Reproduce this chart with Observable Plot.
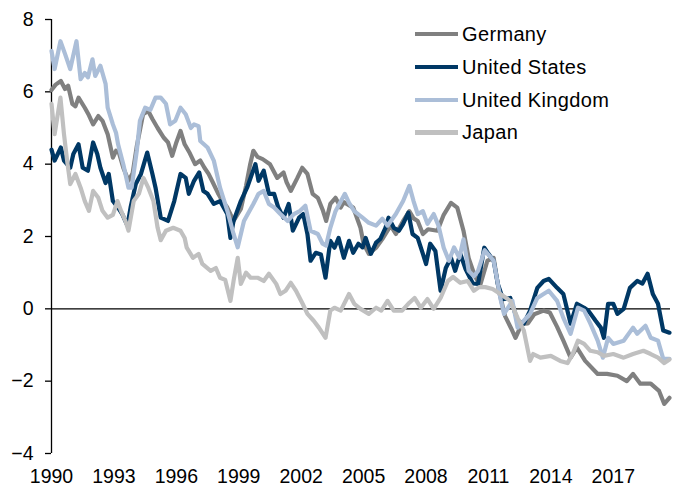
<!DOCTYPE html>
<html>
<head>
<meta charset="utf-8">
<script src="https://cdn.jsdelivr.net/npm/d3@7"></script>
<script src="https://cdn.jsdelivr.net/npm/@observablehq/plot@0.6"></script>
<style>
  html, body { margin: 0; padding: 0; background: #fff; }
  #wrap { position: relative; width: 675px; height: 484px; overflow: hidden; font-family: "Liberation Sans", Arial, sans-serif; }
  #legend { position: absolute; left: 415px; top: 18px; }
  .row { display: flex; align-items: center; height: 32.7px; }
  .sw { width: 43px; height: 4.2px; margin-right: 4px; }
  .lab { font-size: 20px; letter-spacing: 0.35px; color: #000; line-height: 1; }
</style>
</head>
<body>
<div id="wrap"><div id="legend"></div></div>
<script>
const seriesNames = ["Germany", "United States", "United Kingdom", "Japan"];
const seriesColors = ["#808080", "#003865", "#abbed8", "#c0c0c0"];
const xTicks = [1990, 1993, 1996, 1999, 2002, 2005, 2008, 2011, 2014, 2017];
const yTicks = [-4, -2, 0, 2, 4, 6, 8];

const germany = [[1990.0,6.05],[1990.2,6.2],[1990.45,6.3],[1990.65,6.08],[1990.8,6.17],[1991.0,5.67],[1991.15,5.6],[1991.3,5.84],[1991.6,5.56],[1991.8,5.35],[1992.0,5.1],[1992.25,5.33],[1992.45,5.2],[1992.7,4.83],[1992.95,4.18],[1993.1,4.37],[1993.25,4.3],[1993.45,3.9],[1993.7,3.54],[1993.9,3.75],[1994.1,4.5],[1994.4,5.38],[1994.65,5.47],[1994.85,5.25],[1995.1,5.0],[1995.4,4.73],[1995.6,4.6],[1995.8,4.23],[1996.0,4.6],[1996.2,4.92],[1996.4,4.55],[1996.65,4.3],[1996.9,4.0],[1997.15,4.1],[1997.35,3.9],[1997.55,3.73],[1997.75,3.5],[1998.0,3.2],[1998.2,3.0],[1998.45,2.8],[1998.75,2.43],[1999.1,2.76],[1999.35,3.4],[1999.55,4.0],[1999.7,4.37],[1999.9,4.2],[2000.15,4.14],[2000.5,4.0],[2000.85,3.62],[2001.15,3.77],[2001.3,3.5],[2001.5,3.26],[2001.8,3.6],[2002.05,3.9],[2002.3,3.73],[2002.55,3.18],[2002.8,3.07],[2003.05,2.71],[2003.2,2.43],[2003.4,2.9],[2003.65,3.07],[2003.9,2.8],[2004.05,2.95],[2004.5,2.8],[2004.85,2.24],[2005.0,1.8],[2005.25,1.52],[2005.6,1.69],[2005.9,1.93],[2006.3,2.3],[2006.55,2.07],[2006.9,2.43],[2007.2,2.7],[2007.4,2.5],[2007.6,2.43],[2007.85,2.07],[2008.1,2.2],[2008.55,2.16],[2008.85,2.6],[2009.2,2.93],[2009.5,2.8],[2009.8,2.16],[2010.05,1.4],[2010.35,0.9],[2010.6,0.65],[2010.95,1.33],[2011.25,1.41],[2011.5,0.5],[2011.8,-0.2],[2012.1,-0.55],[2012.3,-0.8],[2012.6,-0.42],[2012.9,-0.4],[2013.2,-0.15],[2013.65,-0.05],[2013.95,-0.1],[2014.3,-0.5],[2014.6,-0.88],[2014.95,-1.35],[2015.25,-1.07],[2015.65,-1.44],[2016.25,-1.8],[2016.7,-1.8],[2017.2,-1.85],[2017.65,-2.0],[2017.95,-1.8],[2018.3,-2.07],[2018.8,-2.07],[2019.2,-2.27],[2019.45,-2.63],[2019.7,-2.46]];

const unitedStates = [[1990.0,4.4],[1990.15,4.1],[1990.45,4.46],[1990.6,4.1],[1990.9,3.9],[1991.05,4.28],[1991.3,4.55],[1991.5,3.9],[1991.75,3.82],[1992.0,4.6],[1992.2,4.28],[1992.35,3.9],[1992.6,3.48],[1992.75,3.73],[1992.95,2.98],[1993.2,2.8],[1993.4,2.62],[1993.65,2.3],[1993.8,2.8],[1994.05,3.45],[1994.3,3.73],[1994.6,4.32],[1994.85,3.73],[1995.0,3.35],[1995.25,2.52],[1995.6,2.43],[1995.9,2.98],[1996.2,3.73],[1996.45,3.62],[1996.6,3.18],[1996.85,3.54],[1997.1,3.77],[1997.3,3.26],[1997.5,3.18],[1997.8,2.9],[1998.1,2.98],[1998.45,2.62],[1998.6,1.96],[1998.75,2.43],[1999.1,2.98],[1999.4,3.35],[1999.8,4.0],[1999.95,3.54],[2000.2,3.82],[2000.45,3.18],[2000.7,3.18],[2000.9,2.8],[2001.15,2.52],[2001.4,2.9],[2001.6,2.16],[2001.9,2.52],[2002.1,2.62],[2002.3,2.07],[2002.45,1.33],[2002.7,1.55],[2002.95,1.5],[2003.17,0.86],[2003.4,1.88],[2003.6,1.69],[2003.8,1.96],[2004.05,1.41],[2004.3,1.88],[2004.5,1.55],[2004.75,1.8],[2004.95,1.7],[2005.1,1.96],[2005.35,1.52],[2005.6,1.83],[2005.8,1.93],[2006.05,2.24],[2006.2,2.52],[2006.45,2.24],[2006.7,2.16],[2006.9,2.35],[2007.15,2.66],[2007.35,2.07],[2007.6,1.96],[2007.85,1.52],[2008.0,1.24],[2008.2,1.8],[2008.45,1.6],[2008.7,0.5],[2008.95,1.13],[2009.2,1.41],[2009.4,1.05],[2009.65,1.52],[2009.9,1.1],[2010.25,0.7],[2010.5,0.69],[2010.8,1.69],[2011.0,1.52],[2011.25,1.33],[2011.45,0.69],[2011.7,0.27],[2012.05,0.3],[2012.4,-0.33],[2012.7,-0.41],[2013.0,-0.05],[2013.35,0.58],[2013.65,0.77],[2013.9,0.83],[2014.3,0.58],[2014.6,0.41],[2014.95,-0.41],[2015.25,0.14],[2015.6,0.03],[2015.8,-0.05],[2016.15,-0.33],[2016.4,-0.52],[2016.55,-0.8],[2016.75,0.14],[2017.0,0.14],[2017.2,-0.14],[2017.5,0.0],[2017.8,0.58],[2018.15,0.77],[2018.4,0.7],[2018.65,0.97],[2018.9,0.41],[2019.15,0.14],[2019.4,-0.6],[2019.7,-0.66]];

const unitedKingdom = [[1990.0,7.13],[1990.15,6.63],[1990.43,7.4],[1990.65,7.05],[1990.9,6.63],[1991.2,7.4],[1991.4,6.35],[1991.6,6.52],[1991.75,6.4],[1991.97,6.9],[1992.1,6.44],[1992.35,6.72],[1992.6,6.22],[1992.7,5.56],[1992.95,5.1],[1993.1,4.87],[1993.2,4.55],[1993.45,4.0],[1993.7,3.35],[1993.85,3.35],[1994.1,4.37],[1994.25,5.2],[1994.5,5.56],[1994.75,5.5],[1995.0,5.84],[1995.25,5.84],[1995.5,5.67],[1995.7,5.1],[1995.95,5.2],[1996.2,5.56],[1996.45,5.38],[1996.7,5.0],[1996.85,5.1],[1997.07,5.05],[1997.15,4.64],[1997.5,4.46],[1997.8,4.1],[1998.1,3.35],[1998.45,2.71],[1998.75,2.07],[1998.95,1.7],[1999.25,2.43],[1999.7,2.9],[1999.95,3.18],[2000.2,3.26],[2000.45,2.9],[2000.7,2.8],[2001.0,2.62],[2001.35,2.43],[2001.65,2.62],[2001.95,2.71],[2002.2,2.85],[2002.45,2.16],[2002.8,2.07],[2003.03,1.8],[2003.2,1.75],[2003.4,2.24],[2003.65,2.7],[2004.1,3.18],[2004.3,2.93],[2004.55,2.7],[2004.95,2.52],[2005.25,2.38],[2005.6,2.3],[2005.9,2.49],[2006.15,2.3],[2006.55,2.62],[2006.9,2.98],[2007.2,3.4],[2007.4,2.98],[2007.6,2.62],[2007.85,2.7],[2008.07,2.35],[2008.37,2.62],[2008.6,2.3],[2008.85,1.69],[2009.1,1.33],[2009.35,1.7],[2009.6,1.41],[2009.8,1.92],[2010.05,1.05],[2010.3,0.9],[2010.5,1.05],[2010.82,1.62],[2011.25,1.33],[2011.6,0.22],[2011.75,-0.14],[2012.15,0.22],[2012.4,-0.52],[2012.7,-0.33],[2013.0,-0.14],[2013.35,0.3],[2013.65,0.41],[2013.9,0.5],[2014.3,0.22],[2014.6,-0.25],[2014.95,-0.69],[2015.3,0.03],[2015.6,-0.05],[2015.9,-0.41],[2016.25,-0.88],[2016.5,-1.35],[2016.75,-0.8],[2017.0,-0.97],[2017.5,-0.88],[2017.95,-0.52],[2018.15,-0.69],[2018.55,-0.47],[2018.8,-0.8],[2019.15,-0.88],[2019.4,-1.38],[2019.7,-1.38]];

const japan = [[1990.0,5.67],[1990.15,4.83],[1990.43,5.84],[1990.6,4.83],[1990.75,4.1],[1990.9,3.45],[1991.15,3.73],[1991.4,3.35],[1991.6,2.98],[1991.8,2.71],[1992.0,3.26],[1992.25,3.07],[1992.45,2.71],[1992.7,2.52],[1992.95,2.6],[1993.17,2.98],[1993.35,2.7],[1993.55,2.43],[1993.7,2.16],[1993.95,2.98],[1994.2,3.18],[1994.42,3.62],[1994.65,3.35],[1994.9,2.98],[1995.1,2.24],[1995.25,1.9],[1995.5,2.16],[1995.85,2.24],[1996.2,2.16],[1996.4,1.96],[1996.5,1.69],[1996.8,1.41],[1997.07,1.52],[1997.25,1.24],[1997.65,1.05],[1997.9,1.13],[1998.1,0.86],[1998.35,0.8],[1998.6,0.22],[1998.75,0.77],[1998.95,1.41],[1999.1,0.69],[1999.35,1.0],[1999.57,0.86],[1999.9,0.86],[2000.2,0.77],[2000.45,0.97],[2000.8,0.69],[2001.0,0.41],[2001.25,0.5],[2001.5,0.72],[2001.75,0.5],[2002.07,0.14],[2002.3,-0.14],[2002.6,-0.33],[2002.85,-0.52],[2003.17,-0.8],[2003.4,-0.05],[2003.6,0.03],[2003.9,-0.05],[2004.3,0.41],[2004.55,0.14],[2004.85,0.0],[2005.25,-0.14],[2005.6,0.03],[2005.85,-0.05],[2006.15,0.22],[2006.45,-0.05],[2006.85,-0.05],[2007.2,0.17],[2007.45,0.3],[2007.75,0.03],[2008.07,0.27],[2008.37,0.0],[2008.7,0.3],[2009.05,0.77],[2009.3,0.88],[2009.65,0.72],[2010.0,0.77],[2010.3,0.5],[2010.55,0.6],[2010.85,0.6],[2011.2,0.55],[2011.5,0.44],[2012.05,0.22],[2012.4,-0.25],[2012.7,-0.6],[2013.0,-1.44],[2013.15,-1.25],[2013.5,-1.35],[2014.0,-1.3],[2014.45,-1.44],[2014.8,-1.5],[2015.05,-1.25],[2015.3,-0.88],[2015.6,-0.97],[2015.9,-1.16],[2016.25,-1.2],[2016.55,-1.3],[2017.0,-1.25],[2017.5,-1.35],[2017.95,-1.25],[2018.45,-1.16],[2018.8,-1.25],[2019.15,-1.35],[2019.45,-1.5],[2019.7,-1.4]];

const seriesData = [germany, unitedStates, unitedKingdom, japan];
const rows = seriesData.flatMap((arr, i) => arr.map(([t, v]) => ({t, v, name: seriesNames[i]})));

const chart = Plot.plot({
  width: 675,
  height: 484,
  marginLeft: 51,
  marginRight: 5,
  marginTop: 19,
  marginBottom: 31,
  style: {fontFamily: "'Liberation Sans', Arial, sans-serif", fontSize: "19.5px", color: "#000", background: "#fff", overflow: "hidden"},
  x: {domain: [1990, 2019.75], ticks: xTicks, tickFormat: "d", tickSize: 0, tickPadding: 16, label: null},
  y: {domain: [-4, 8], ticks: yTicks, tickSize: 6, tickPadding: 12, label: null},
  color: {domain: seriesNames, range: seriesColors},
  marks: [
    Plot.ruleY([0], {stroke: "#000", strokeWidth: 1.2}),
    Plot.ruleX([1990], {y1: -4, y2: 8, stroke: "#000", strokeWidth: 1.3}),
    Plot.axisY({ticks: yTicks, tickSize: 6, tickPadding: 12, stroke: "#000", strokeWidth: 1.3, fontSize: 19.5, fill: "#000"}),
    Plot.axisX({ticks: xTicks, tickFormat: "d", tickSize: 0, tickPadding: 16, fontSize: 19.5, fill: "#000"}),
    Plot.line(rows, {x: "t", y: "v", z: "name", stroke: "name", strokeWidth: 4.2, strokeLinejoin: "round", strokeLinecap: "round"})
  ]
});
const wrap = document.getElementById("wrap");
wrap.insertBefore(chart, wrap.firstChild);

const legend = document.getElementById("legend");
seriesNames.forEach((n, i) => {
  const r = document.createElement("div");
  r.className = "row";
  const s = document.createElement("div");
  s.className = "sw";
  s.style.background = seriesColors[i];
  const l = document.createElement("span");
  l.className = "lab";
  l.textContent = n;
  r.appendChild(s); r.appendChild(l);
  legend.appendChild(r);
});
</script>
</body>
</html>
